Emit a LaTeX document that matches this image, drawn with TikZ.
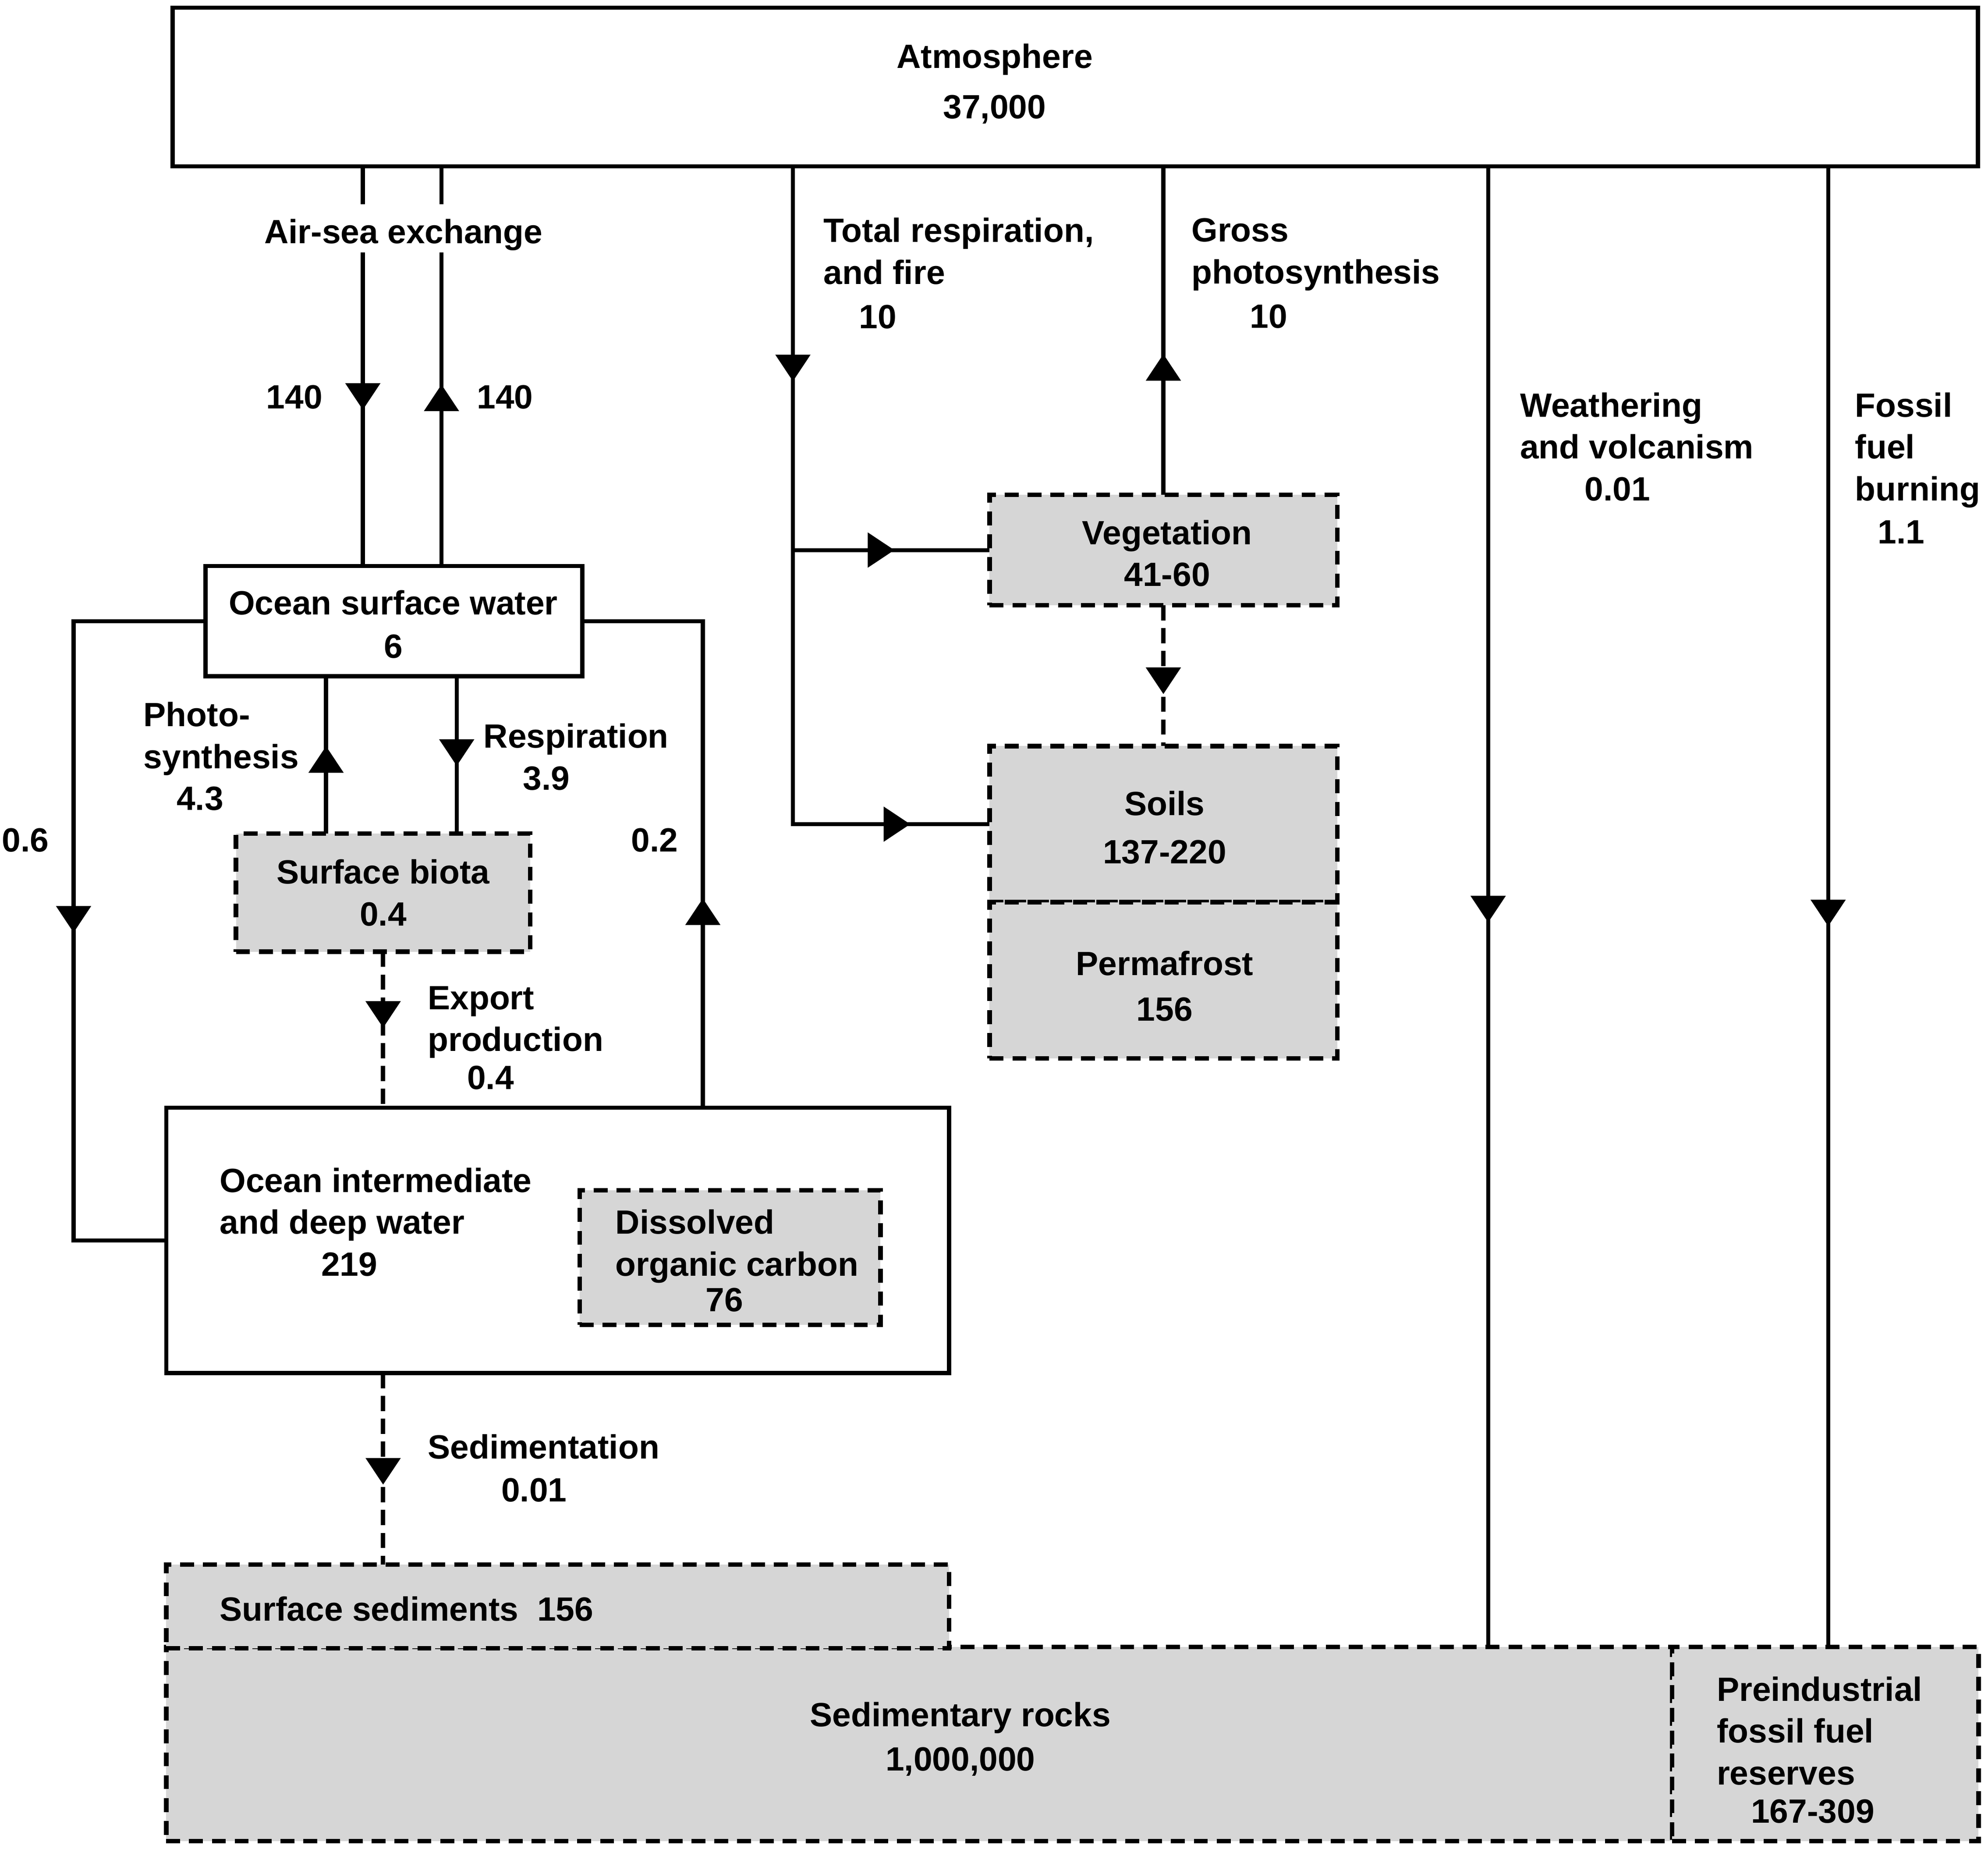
\documentclass[tikz,border=0pt]{standalone}
\usepackage{fontspec}
\setmainfont{Liberation Sans}
\usetikzlibrary{arrows.meta,decorations.markings}
\definecolor{poolgray}{gray}{0.84}
\newcommand\cyclefont{\fontsize{26.5}{33}\selectfont\bfseries}
\tikzset{
  pool/.style={draw, line width=3.3pt, inner sep=0pt, outer sep=0pt},
  solidpool/.style={pool, fill=white},
  dashpool/.style={pool, fill=poolgray, line width=3.6pt, dash pattern=on 11pt off 7pt},
  flow/.style={draw, line width=3.2pt},
  dflow/.style={flow, line width=3.4pt, dash pattern=on 12pt off 6pt},
  arr/.style={postaction={decorate, decoration={markings,
      mark=at position #1 with {\arrow{Triangle[width=27pt,length=21pt]}}}}},
}

\begin{document}
\begin{tikzpicture}[x=1pt, y=-1pt, font=\cyclefont]
        \useasboundingbox (0,0) rectangle (1567,1457);

        \begin{scope}[every node/.style={solidpool}]
          \node[minimum width=1423pt, minimum height=125pt] (atm)  at (847.5,68.5) {};
          \node[minimum width=297pt, minimum height=87pt]   (osw)  at (310.5,489.5) {};
          \node[minimum width=617pt, minimum height=209pt]  (deep) at (439.5,977.5) {};
        \end{scope}

        \begin{scope}[every node/.style={dashpool}]
          \node[minimum width=232pt, minimum height=93pt]   (biota)  at (302,703.5) {};
          \node[minimum width=237pt, minimum height=106pt]  (doc)    at (575.5,991) {};
          \node[minimum width=274pt, minimum height=87pt]   (veg)    at (917,433.5) {};
          \node[minimum width=274pt, minimum height=123pt]  (soils)  at (917,649.5) {};
          \node[minimum width=274pt, minimum height=123pt]  (perma)  at (917,772.5) {};
          \node[minimum width=1187pt, minimum height=153pt] (rocks)  at (724.5,1374.5) {};
          \node[minimum width=241.5pt, minimum height=153pt] (preind) at (1438.75,1374.5) {};
          \node[minimum width=617pt, minimum height=66pt]   (sed)    at (439.5,1266) {};
        \end{scope}

        \coordinate (seadown)   at (286,0);
        \coordinate (seaup)     at (348,0);
        \coordinate (totresp)   at (625,0);
        \coordinate (weath)     at (1173,0);
        \coordinate (fossil)    at (1441,0);
        \coordinate (leftloop)  at (58,0);
        \coordinate (rightloop) at (554,0);
        \coordinate (photo)     at (257,0);
        \coordinate (respir)    at (360,0);

        \draw[flow, arr=192pt] (seadown |- atm.south) -- (seadown |- osw.north);
        \draw[flow, arr=143pt] (seaup |- osw.north) -- (seaup |- atm.south);
        \draw[flow, arr=169.5pt, arr=611pt] (totresp |- atm.south) -- (totresp |- soils.west) -- (soils.west);
        \draw[flow, arr=80pt] (totresp |- veg.west) -- (veg.west);
        \draw[flow, arr=111pt] (veg.north) -- (veg.north |- atm.south);
        \draw[dflow, arr=70pt] (veg.south) -- (soils.north);
        \draw[flow, arr=596pt] (weath |- atm.south) -- (weath |- rocks.north);
        \draw[flow, arr=599pt] (fossil |- atm.south) -- (fossil |- preind.north);
        \draw[flow, arr=349.5pt] (osw.west) -- (leftloop |- osw.west) -- (leftloop |- deep.west) -- (deep.west);
        \draw[flow, arr=165pt] (rightloop |- deep.north) -- (rightloop |- osw.east) -- (osw.east);
        \draw[flow, arr=69pt] (photo |- biota.north) -- (photo |- osw.south);
        \draw[flow, arr=70.6pt] (respir |- osw.south) -- (respir |- biota.north);
        \draw[dflow, arr=60pt] (biota.south) -- (biota.south |- deep.north);
        \draw[dflow, arr=88pt] (biota.south |- deep.south) -- (biota.south |- sed.north);

        \begin{scope}[every node/.style={inner sep=0pt, align=center}]
          \node (atmtext)   at (784,66)      {Atmosphere\\[7pt]37,000};
          \node (oswtext)   at (310,492)     {Ocean surface water\\[1pt]6};
          \node (biotatext) at (302,703.5)   {Surface biota\\0.4};
          \node (vegtext)   at (920,436)     {Vegetation\\41-60};
          \node (soilstext) at (918,652)     {Soils\\[5pt]137-220};
          \node (permatext) at (918,777)     {Permafrost\\[3pt]156};
          \node (rockstext) at (757,1370.5)  {Sedimentary rocks\\[2pt]1,000,000};
          \node (l06)       at (20,662)      {0.6};
          \node (l02)       at (516,662)     {0.2};
          \node (l140a)     at (232,313)     {140};
          \node (l140b)     at (398,313)     {140};
          \node[fill=white, anchor=base, text height=30.7pt, text depth=7.3pt]
                (airsea)    at (318,191.7)   {Air-sea exchange};
        \end{scope}

        \begin{scope}[every node/.style={inner sep=0pt, anchor=west, align=left}]
          \node (deeptext)   at (173,963)    {Ocean intermediate\\and deep water\\\hspace*{80pt}219};
          \node (doctext)    at (485,993.5)  {Dissolved\\organic carbon\\[-5pt]\hspace*{71pt}76};
          \node (sedtext)    at (173,1268)   {Surface sediments\ \ 156};
          \node (preindtext) at (1353,1379)  {Preindustrial\\fossil fuel\\reserves\\[-3pt]\hspace*{27pt}167-309};
          \node (resptext)   at (649,215.5)  {Total respiration,\\and fire\\[2pt]\hspace*{28pt}10};
          \node (grosstext)  at (939,215.5)  {Gross\\photosynthesis\\[2pt]\hspace*{46pt}10};
          \node (weathtext)  at (1198,352)   {Weathering\\and volcanism\\\hspace*{51pt}0.01};
          \node (fossiltext) at (1462,369)   {Fossil\\fuel\\burning\\[1pt]\hspace*{18pt}1.1};
          \node (phototext)  at (113,596)    {Photo-\\synthesis\\\hspace*{26pt}4.3};
          \node (respirtext) at (381,596.5)  {Respiration\\\hspace*{31pt}3.9};
          \node (exporttext) at (337,818)    {Export\\production\\[-3pt]\hspace*{31pt}0.4};
          \node (sedimtext)  at (337,1157)   {Sedimentation\\[1pt]\hspace*{58pt}0.01};
        \end{scope}

      \end{tikzpicture}
\end{document}
